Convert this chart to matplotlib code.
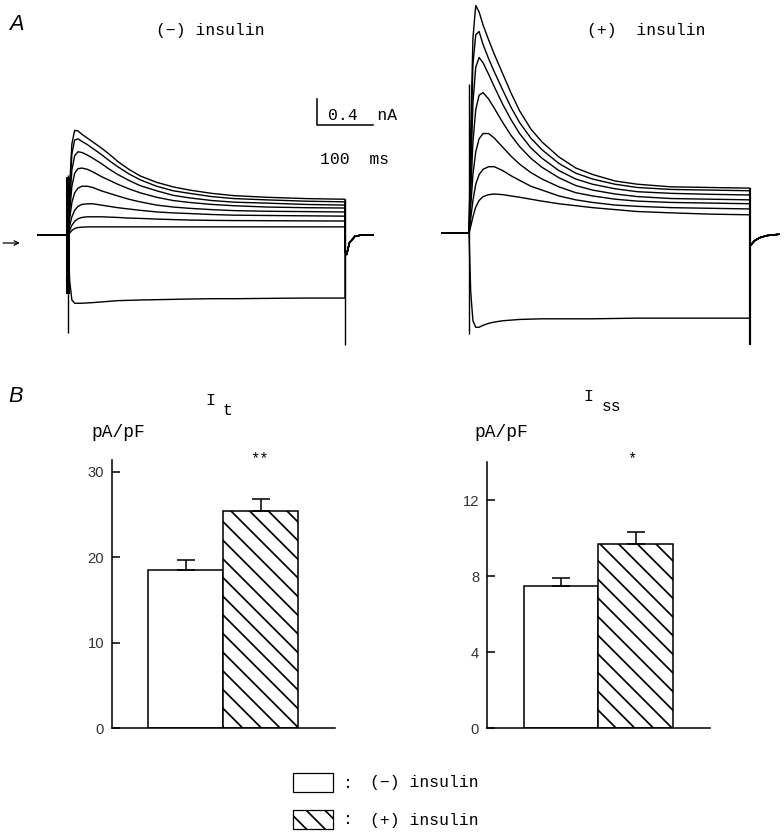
import numpy as np
import matplotlib
matplotlib.use("Agg")
import matplotlib.pyplot as plt
from matplotlib.patches import Rectangle, FancyArrowPatch

# ---- data -------------------------------------------------------------
# sample times during the 500 ms depolarising step (ms)
t_step = [0, 3, 7, 12, 18, 25, 35, 45, 60, 75, 90, 110, 130, 160, 190, 220, 260, 300, 360, 430, 500]

# current traces (nA), (-) insulin
ctrl_traces = [
    [0, 0.75, 1.40, 1.61, 1.60, 1.55, 1.49, 1.43, 1.34, 1.24, 1.13, 1.01, 0.91, 0.81, 0.74, 0.69, 0.64, 0.605, 0.58, 0.56, 0.55],
    [0, 0.65, 1.25, 1.46, 1.48, 1.44, 1.39, 1.33, 1.24, 1.14, 1.05, 0.94, 0.85, 0.75, 0.68, 0.64, 0.59, 0.56, 0.54, 0.52, 0.51],
    [0, 0.50, 1.00, 1.22, 1.28, 1.27, 1.23, 1.18, 1.10, 1.01, 0.93, 0.84, 0.76, 0.68, 0.61, 0.57, 0.53, 0.505, 0.49, 0.47, 0.46],
    [0, 0.35, 0.75, 0.95, 1.02, 1.03, 1.01, 0.97, 0.90, 0.84, 0.78, 0.71, 0.65, 0.58, 0.53, 0.50, 0.47, 0.45, 0.43, 0.42, 0.415],
    [0, 0.25, 0.50, 0.65, 0.72, 0.75, 0.75, 0.73, 0.68, 0.64, 0.60, 0.55, 0.51, 0.46, 0.43, 0.41, 0.39, 0.375, 0.365, 0.36, 0.354],
    [0, 0.14, 0.28, 0.38, 0.44, 0.47, 0.48, 0.48, 0.46, 0.44, 0.42, 0.40, 0.38, 0.355, 0.34, 0.33, 0.315, 0.305, 0.30, 0.295, 0.29],
    [0, 0.07, 0.15, 0.21, 0.25, 0.27, 0.28, 0.28, 0.28, 0.275, 0.27, 0.26, 0.255, 0.245, 0.237, 0.23, 0.225, 0.222, 0.22, 0.217, 0.215],
    [0, 0.03, 0.07, 0.10, 0.115, 0.12, 0.125, 0.125, 0.125, 0.125, 0.125, 0.125, 0.125, 0.125, 0.125, 0.125, 0.125, 0.125, 0.125, 0.125, 0.125],
    [0, -0.70, -1.00, -1.05, -1.05, -1.05, -1.045, -1.04, -1.03, -1.02, -1.01, -1.005, -1.00, -0.995, -0.99, -0.985, -0.98, -0.98, -0.975, -0.97, -0.97],
]

# current traces (nA), (+) insulin
ins_traces = [
    [0, 1.50, 3.00, 3.50, 3.40, 3.20, 2.97, 2.75, 2.45, 2.15, 1.88, 1.60, 1.40, 1.17, 1.00, 0.90, 0.80, 0.75, 0.71, 0.70, 0.69],
    [0, 1.20, 2.60, 3.05, 3.10, 2.90, 2.68, 2.48, 2.20, 1.93, 1.70, 1.46, 1.28, 1.07, 0.92, 0.83, 0.75, 0.70, 0.67, 0.66, 0.65],
    [0, 0.90, 2.00, 2.55, 2.70, 2.62, 2.44, 2.25, 1.98, 1.74, 1.53, 1.31, 1.15, 0.96, 0.83, 0.75, 0.68, 0.635, 0.61, 0.595, 0.585],
    [0, 0.60, 1.40, 1.90, 2.12, 2.16, 2.06, 1.92, 1.70, 1.50, 1.33, 1.15, 1.01, 0.85, 0.73, 0.66, 0.60, 0.56, 0.53, 0.52, 0.51],
    [0, 0.40, 0.90, 1.25, 1.45, 1.53, 1.53, 1.46, 1.32, 1.18, 1.06, 0.93, 0.83, 0.71, 0.62, 0.57, 0.52, 0.49, 0.47, 0.46, 0.45],
    [0, 0.22, 0.50, 0.75, 0.90, 0.98, 1.02, 1.02, 0.96, 0.88, 0.81, 0.72, 0.66, 0.57, 0.51, 0.47, 0.43, 0.41, 0.39, 0.38, 0.37],
    [0, 0.10, 0.25, 0.40, 0.50, 0.56, 0.59, 0.60, 0.59, 0.57, 0.55, 0.52, 0.49, 0.45, 0.42, 0.39, 0.36, 0.33, 0.31, 0.29, 0.28],
    [0, -0.90, -1.35, -1.45, -1.45, -1.42, -1.39, -1.37, -1.35, -1.34, -1.33, -1.325, -1.32, -1.32, -1.32, -1.32, -1.315, -1.31, -1.31, -1.31, -1.31],
]

# holding current before / after the step, tail after step
ctrl_pre_t = [-54, 0]
ins_pre_t = [-48, 0]
tail_t = [500, 503, 508, 518, 530, 551]
ctrl_tail = [-0.25, -0.30, -0.12, -0.02, 0.0, 0.0]
ins_tail = [-0.20, -0.17, -0.12, -0.07, -0.04, -0.02]

# capacitive transients (nA): (low, high)
ctrl_on_spike = (-1.50, 0.92)
ctrl_on_band = (-0.90, 0.90)
ctrl_off_spike = (-1.69, 0.55)
ins_on_spike = (-1.55, 2.30)
ins_off_spike = (-1.72, 0.69)

# current densities (pA/pF), mean and s.e.m.
groups = ["(−) insulin", "(+) insulin"]
It_mean = [18.5, 25.4]
It_sem = [1.15, 1.4]
Iss_mean = [7.5, 9.7]
Iss_sem = [0.37, 0.63]
It_ticks = [0, 10, 20, 30]
Iss_ticks = [0, 4, 8, 12]

# ---- layout helpers ---------------------------------------------------
W, H = 784, 839
DPI = 112
fig = plt.figure(figsize=(W / DPI, H / DPI), dpi=DPI)
plt.rcParams['hatch.linewidth'] = 1.1

MONO = ['Liberation Mono', 'DejaVu Sans Mono']
SANS = ['Liberation Sans', 'DejaVu Sans']
HATCH = '\\\\'


def px_axes(x0, y0, x1, y1):
    return fig.add_axes([x0 / W, 1 - y1 / H, (x1 - x0) / W, (y1 - y0) / H])


def ftext(x, y, s, **kw):
    kw.setdefault('family', MONO)
    kw.setdefault('va', 'center')
    return fig.text(x / W, 1 - y / H, s, **kw)


def trace_axes(x0, x1, t0_px, px_per_ms, base_px, px_per_nA):
    ax = px_axes(x0, 0, x1, 350)
    ax.set_xlim((x0 - t0_px) / px_per_ms, (x1 - t0_px) / px_per_ms)
    ax.set_ylim((base_px - 350) / px_per_nA, base_px / px_per_nA)
    ax.axis('off')
    return ax


lw = 0.9

# ---- panel A ------------------------------------------------------------
axL = trace_axes(30, 385, 68, 0.554, 235, 65)
for tr in ctrl_traces:
    axL.plot(ctrl_pre_t + t_step + tail_t, [0, 0] + tr + ctrl_tail, color='black', lw=lw)
axL.vlines(0, *ctrl_on_spike, color='black', lw=lw)
axL.vlines(0, *ctrl_on_band, color='black', lw=2.6)
axL.vlines(500, *ctrl_off_spike, color='black', lw=lw)

# scale bar 0.4 nA / 100 ms
sb_t, sb_i = 450, 1.69
axL.plot([sb_t, sb_t, sb_t + 100], [sb_i + 0.4, sb_i, sb_i], color='black', lw=1.0)
ftext(328, 116, "0.4  nA", fontsize=10.5)
ftext(320, 159, "100  ms", fontsize=10.5)

axR = trace_axes(430, 784, 469, 0.562, 233, 65)
for tr in ins_traces:
    axR.plot(ins_pre_t + t_step + tail_t, [0, 0] + tr + ins_tail, color='black', lw=lw)
axR.vlines(0, *ins_on_spike, color='black', lw=lw)
axR.vlines(500, *ins_off_spike, color='black', lw=1.4)

ftext(16, 24, "A", family=SANS, style='italic', fontsize=14, ha='center')
ftext(210, 30, "(−) insulin", fontsize=10.5, ha='center')
ftext(646, 30, "(+)  insulin", fontsize=10.5, ha='center')

arrow = FancyArrowPatch((0 / W, 1 - 243 / H), (23 / W, 1 - 243 / H),
                        transform=fig.transFigure, arrowstyle='->',
                        mutation_scale=7, lw=0.8, color='black')
fig.add_artist(arrow)

# ---- panel B ------------------------------------------------------------
def bar_panel(box, xlim, ymax, means, sems, ticks):
    ax = px_axes(*box)
    bars = ax.bar([0, 1], means, width=1.0, color='white', edgecolor='black', linewidth=1.0)
    bars[1].set_hatch(HATCH)
    ax.errorbar([0, 1], means, yerr=[[0, 0], sems], fmt='none', ecolor='black',
                elinewidth=1.0, capsize=6, capthick=1.0)
    ax.set_xlim(*xlim)
    ax.set_ylim(0, ymax)
    ax.set_yticks(ticks)
    ax.set_xticks([])
    for s in ['top', 'right']:
        ax.spines[s].set_visible(False)
    for s in ['left', 'bottom']:
        ax.spines[s].set_linewidth(1.0)
    ax.tick_params(axis='y', direction='in', length=5, width=1.0, pad=5,
                   labelsize=9.5, labelcolor='#333333')
    for lab in ax.get_yticklabels():
        lab.set_family(SANS)
    return ax


bar_panel((112, 460, 335, 728), (-0.98, 1.99), 31.4, It_mean, It_sem, It_ticks)
bar_panel((487, 462, 710, 728), (-1.0, 2.0), 14.0, Iss_mean, Iss_sem, Iss_ticks)

ftext(16, 396, "B", family=SANS, style='italic', fontsize=14, ha='center')
ftext(210, 400, "I", fontsize=10.5, ha='center')
ftext(227, 410, "t", fontsize=10.5, ha='center')
ftext(588, 397, "I", fontsize=10.5, ha='center')
ftext(612, 407, "ss", fontsize=10.5, ha='center')
ftext(118, 432, "pA/pF", fontsize=11.5, ha='center')
ftext(501, 432, "pA/pF", fontsize=11.5, ha='center')
ftext(259, 459, "**", fontsize=10, ha='center')
ftext(632, 459, "*", fontsize=10, ha='center')

# legend
for (y0, hatch), name in zip([(773, ''), (810, HATCH)], groups):
    r = Rectangle((293 / W, 1 - (y0 + 19) / H), 40 / W, 19 / H, transform=fig.transFigure,
                  facecolor='white', edgecolor='black', lw=0.8, hatch=hatch)
    fig.add_artist(r)
    ftext(348, y0 + 10, ":", fontsize=10.5, ha='center')
    ftext(370, y0 + 10, name, fontsize=10.5, ha='left')

fig.savefig("out.png", dpi=DPI)
